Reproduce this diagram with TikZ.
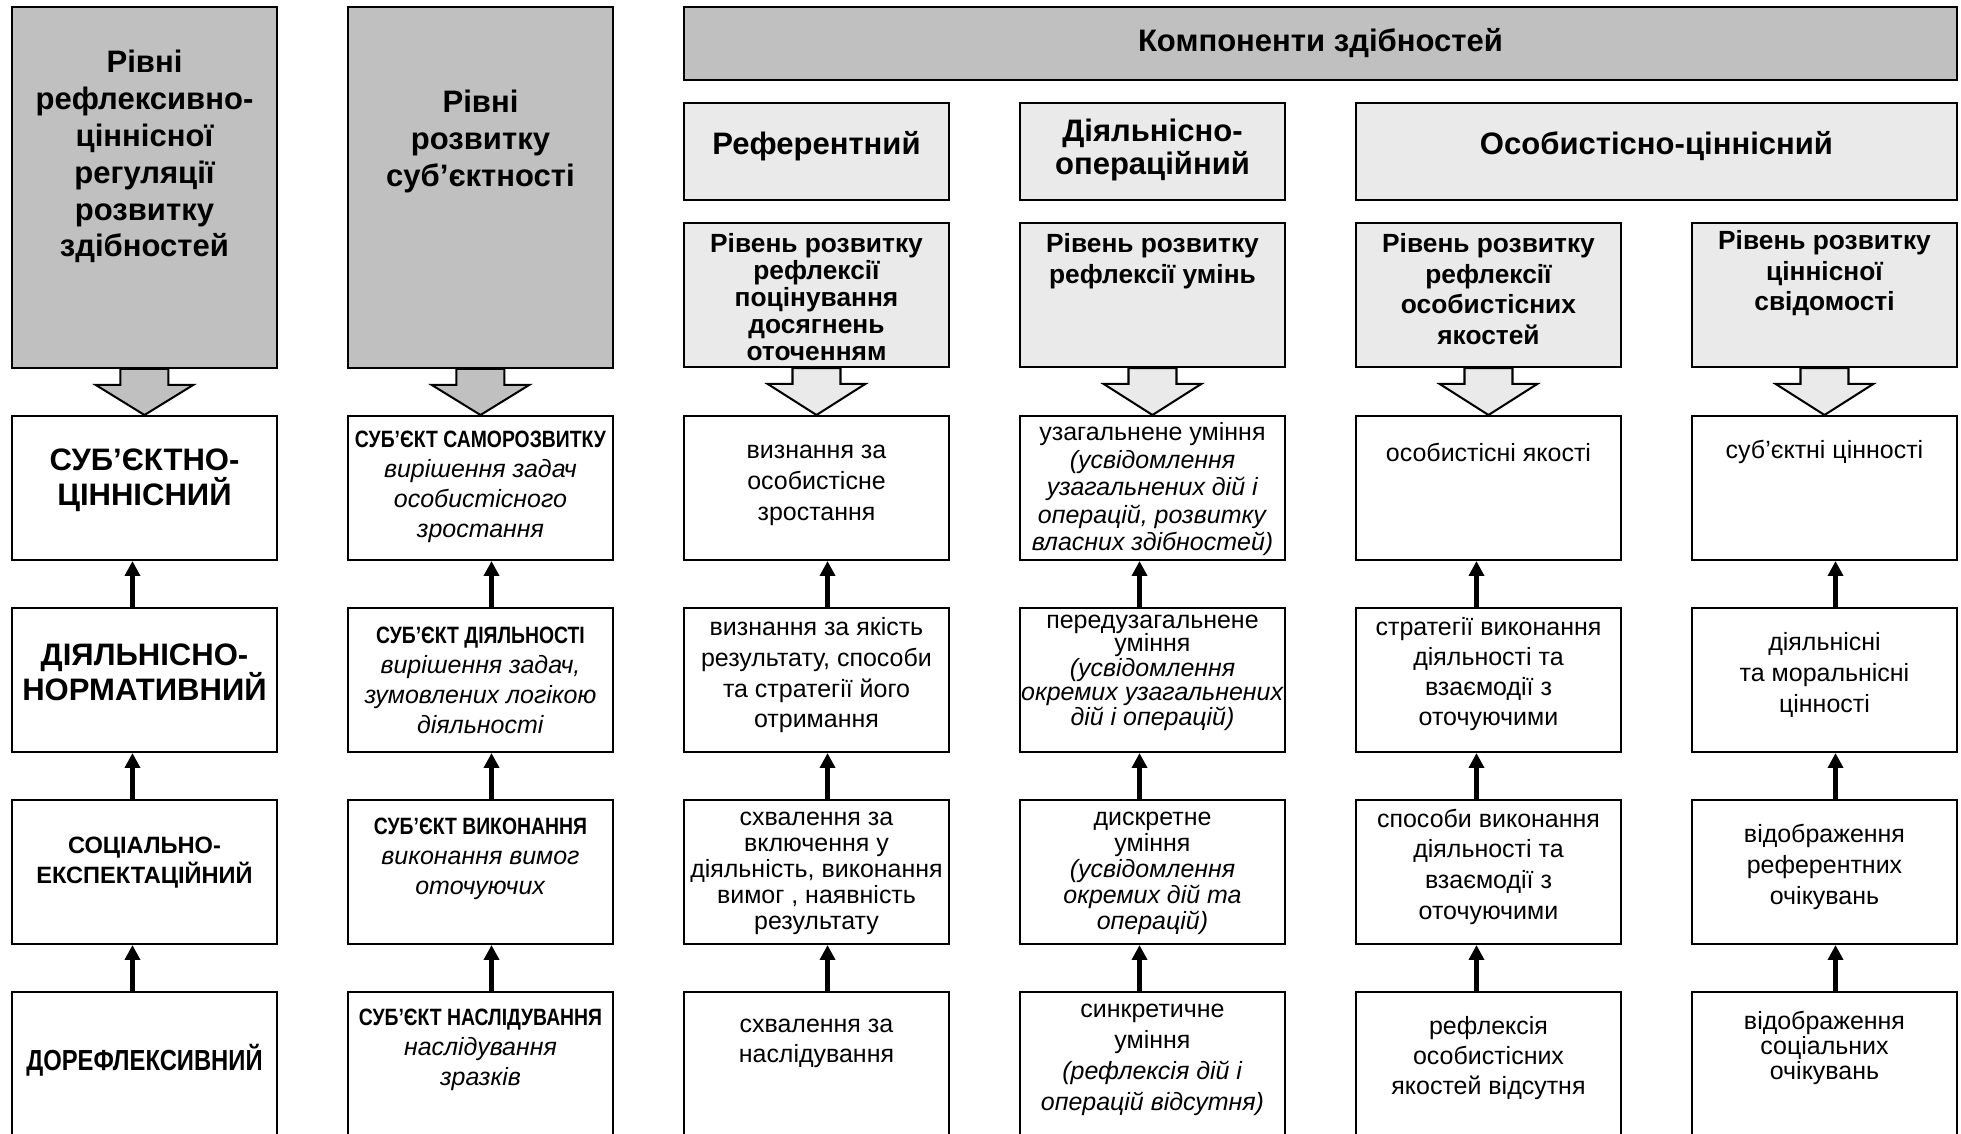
\documentclass[tikz,border=0pt]{standalone}
\usepackage{fontspec}
\setmainfont{Liberation Sans}
\newfontfamily\narrow{Liberation Sans}[FakeStretch=0.82]
\usetikzlibrary{arrows.meta}
\definecolor{darkfill}{HTML}{C0C0C0}
\definecolor{lightfill}{HTML}{EAEAEA}
\newcommand{\sz}[2]{\fontsize{#1}{#2}\selectfont}

\tikzset{
  box/.style={draw, line width=1.2pt, minimum width=5.52cm, minimum height=3cm, inner sep=0pt},
  titlebox/.style={box, fill=darkfill, minimum height=7.52cm},
  headbox/.style={box, fill=lightfill, minimum height=2.02cm},
  levelbox/.style={box, fill=lightfill, minimum height=3cm},
  txt/.style={align=center, inner sep=0pt, font=\sz{14.8}{17.8}},
  heavy/.style={txt, font=\bfseries\sz{18.4}{21.9}},
  levtxt/.style={txt, font=\bfseries\sz{15.6}{18.2}},
  blockarrow/.style={line width=1.2pt, line join=miter},
  uparrow/.style={line width=2.7pt, -{Triangle[width=0.31cm,length=0.31cm]}}
}

\begin{document}
\begin{tikzpicture}
  \useasboundingbox (0,0) rectangle (40.854,-23.625);
  \clip (0,0) rectangle (40.854,-23.625);

  % headers
  \node[titlebox] (A0) at (3.01,-3.906) {};
  \node[titlebox] (B0) at (10.01,-3.906) {};
  \node[box, fill=darkfill, minimum width=26.52cm, minimum height=1.52cm,
        font=\bfseries\sz{18.4}{20}] (top) at (27.51,-0.906) {Компоненти здібностей};
  \node[headbox] (HC) at (17.01,-3.156) {};
  \node[headbox] (HD) at (24.01,-3.156) {};
  \node[headbox, minimum width=12.52cm] (HEF) at (34.51,-3.156) {};
  \foreach \c [count=\k from 2] in {C,D,E,F}
    \node[levelbox] (R\c) at ({3.01+7*\k},-6.146) {};

  % rows and arrows between them
  \foreach \c/\dx [count=\k from 0] in {A/-0.25,B/0.23,C/0.23,D/-0.27,E/-0.25,F/0.23}
  {
    \foreach \r in {1,...,4}
      \node[box] (\c\r) at ({3.01+7*\k},{-10.167-4*(\r-1)}) {};
    \foreach \r/\s in {2/1,3/2,4/3}
      \draw[uparrow] ([xshift=\dx cm]\c\r.north) -- ([xshift=\dx cm]\c\s.south);
  }

  % block arrows
  \foreach \t/\b/\f in {A0/A1/darkfill,B0/B1/darkfill,RC/C1/lightfill,RD/D1/lightfill,RE/E1/lightfill,RF/F1/lightfill}
  {
    \filldraw[blockarrow, fill=\f] ([xshift=-0.5cm]\t.south) -- ++(0,-0.33) -- ++(-0.52,0)
      -- (\b.north) -- ([xshift=1.02cm,yshift=-0.33cm]\t.south) -- ++(-0.52,0)
      -- ([xshift=0.5cm]\t.south) -- cycle;
  }

  % title texts
  \node[heavy] (A0t) at (3.01,-3.26) {Рівні\\рефлексивно-\\ціннісної\\регуляції\\розвитку\\здібностей};
  \node[heavy] (B0t) at (10.01,-2.95) {Рівні\\розвитку\\суб’єктності};
  \node[heavy, font=\bfseries\sz{18.4}{20}] (HCt) at ([yshift=0.12cm]HC) {Референтний};
  \node[heavy, font=\bfseries\sz{18.4}{20}] (HDt) at ([yshift=0.03cm]HD) {Діяльнісно-\\операційний};
  \node[heavy, font=\bfseries\sz{18.4}{20}] (HEFt) at ([yshift=0.12cm]HEF) {Особистісно-ціннісний};
  \node[levtxt, font=\bfseries\sz{15.6}{16}] (RCt) at (17.01,-6.18) {Рівень розвитку\\рефлексії\\поцінування\\досягнень\\оточенням};
  \node[levtxt, font=\bfseries\sz{15.6}{18.8}] (RDt) at (24.01,-5.44) {Рівень розвитку\\рефлексії умінь};
  \node[levtxt] (REt) at (31.01,-6.02) {Рівень розвитку\\рефлексії\\особистісних\\якостей};
  \node[levtxt] (RFt) at (38.01,-5.69) {Рівень розвитку\\ціннісної\\свідомості};

  % column A
  \node[heavy, font=\bfseries\sz{18.4}{20.7}] (A1t) at ([yshift=0.156cm]A1) {СУБ’ЄКТНО-\\ЦІННІСНИЙ};
  \node[heavy, font=\bfseries\sz{18.4}{20.7}] (A2t) at ([yshift=0.156cm]A2) {ДІЯЛЬНІСНО-\\НОРМАТИВНИЙ};
  \node[heavy, font=\bfseries\sz{14}{17.8}] (A3t) at ([yshift=0.19cm]A3) {СОЦІАЛЬНО-\\ЕКСПЕКТАЦІЙНИЙ};
  \node[heavy, font=\narrow\bfseries\sz{17.2}{20}] (A4t) at ([yshift=0.083cm]A4) {ДОРЕФЛЕКСИВНИЙ};

  % column B
  \node[txt] (B1t) at ([yshift=0.02cm]B1) {{\narrow\bfseries\sz{14}{17.8}СУБ’ЄКТ САМОРОЗВИТКУ}\\\textit{вирішення задач}\\\textit{особистісного}\\\textit{зростання}};
  \node[txt] (B2t) at (B2) {{\narrow\bfseries\sz{14}{17.8}СУБ’ЄКТ ДІЯЛЬНОСТІ}\\\textit{вирішення задач,}\\\textit{зумовлених логікою}\\\textit{діяльності}};
  \node[txt] (B3t) at ([yshift=0.28cm]B3) {{\narrow\bfseries\sz{14}{17.8}СУБ’ЄКТ ВИКОНАННЯ}\\\textit{виконання вимог}\\\textit{оточуючих}};
  \node[txt] (B4t) at ([yshift=0.3cm]B4) {{\narrow\bfseries\sz{14}{17.8}СУБ’ЄКТ НАСЛІДУВАННЯ}\\\textit{наслідування}\\\textit{зразків}};

  % column C
  \node[txt, font=\sz{14.8}{18.4}] (C1t) at ([yshift=0.06cm]C1) {визнання за\\особистісне\\зростання};
  \node[txt, font=\sz{14.8}{18.2}] (C2t) at ([yshift=0.1cm]C2) {визнання за якість\\результату, способи\\та стратегії його\\отримання};
  \node[txt, font=\sz{14.8}{15.4}] (C3t) at ([yshift=-0.02cm]C3) {схвалення за\\включення у\\діяльність, виконання\\вимог , наявність\\результату};
  \node[txt] (C4t) at ([yshift=0.44cm]C4) {схвалення за\\наслідування};

  % column D
  \node[txt, font=\sz{14.8}{16.3}] (D1t) at ([yshift=-0.03cm]D1) {узагальнене уміння\\\textit{(усвідомлення}\\\textit{узагальнених дій і}\\\textit{операцій, розвитку}\\\textit{власних здібностей)}};
  \node[txt, font=\sz{14.8}{13.8}] (D2t) at ([yshift=0.15cm]D2) {передузагальнене\\уміння\\\textit{(усвідомлення}\\\textit{окремих узагальнених}\\\textit{дій і операцій)}};
  \node[txt, font=\sz{14.8}{15.4}] (D3t) at ([yshift=-0.03cm]D3) {дискретне\\уміння\\\textit{(усвідомлення}\\\textit{окремих дій та}\\\textit{операцій)}};
  \node[txt, font=\sz{14.8}{18.4}] (D4t) at ([yshift=0.08cm]D4) {синкретичне\\уміння\\\textit{(рефлексія дій і}\\\textit{операцій відсутня)}};

  % column E
  \node[txt] (E1t) at ([yshift=0.75cm]E1) {особистісні якості};
  \node[txt] (E2t) at ([yshift=0.12cm]E2) {стратегії виконання\\діяльності та\\взаємодії з\\оточуючими};
  \node[txt, font=\sz{14.8}{18.2}] (E3t) at ([yshift=0.11cm]E3) {способи виконання\\діяльності та\\взаємодії з\\оточуючими};
  \node[txt] (E4t) at ([yshift=0.12cm]E4) {рефлексія\\особистісних\\якостей відсутня};

  % column F
  \node[txt] (F1t) at ([yshift=0.75cm]F1) {суб’єктні цінності};
  \node[txt, font=\sz{14.8}{18.4}] (F2t) at ([yshift=0.11cm]F2) {діяльнісні\\та моральнісні\\цінності};
  \node[txt, font=\sz{14.8}{18.4}] (F3t) at ([yshift=0.11cm]F3) {відображення\\референтних\\очікувань};
  \node[txt, font=\sz{14.8}{14.8}] (F4t) at ([yshift=0.33cm]F4) {відображення\\соціальних\\очікувань};
\end{tikzpicture}
\end{document}
